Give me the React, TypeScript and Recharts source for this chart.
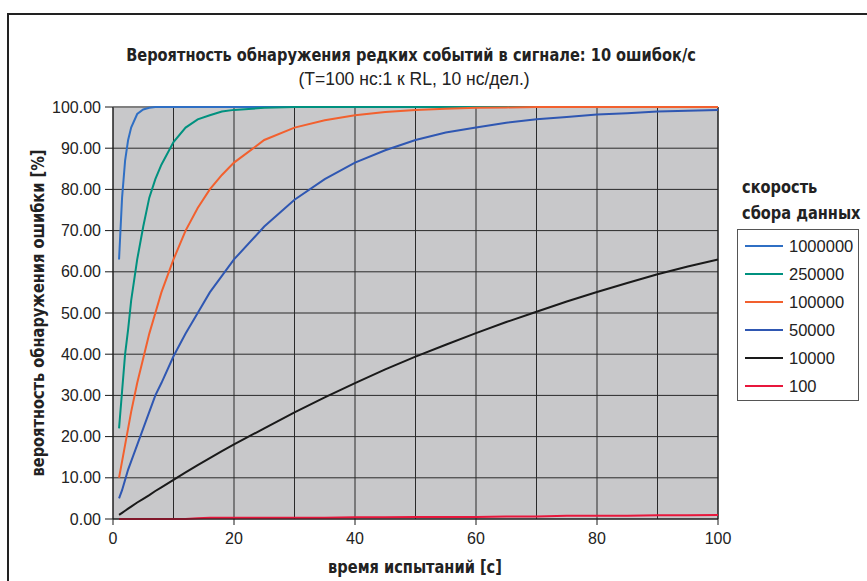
import { LineChart, Line, XAxis, YAxis, CartesianGrid, ReferenceLine } from 'recharts';

const times = [1, 1.5, 2, 2.5, 3, 4, 5, 6, 7, 8, 10, 12, 14, 16, 18, 20, 25, 30, 35, 40, 45, 50, 55, 60, 65, 70, 75, 80, 85, 90, 95, 100];
const s1000000 = [63, 78, 87, 92, 95, 98.3, 99.4, 99.8, 100, 100, 100, 100, 100, 100, 100, 100, 100, 100, 100, 100, 100, 100, 100, 100, 100, 100, 100, 100, 100, 100, 100, 100];
const s250000 = [22, 31, 40, 46, 53, 63, 71, 78, 82.5, 86, 91.5, 95, 97, 98, 98.9, 99.3, 99.8, 100, 100, 100, 100, 100, 100, 100, 100, 100, 100, 100, 100, 100, 100, 100];
const s100000 = [10, 14, 18, 22, 26, 33, 39, 45, 50, 55, 63, 70, 75.5, 80, 83.5, 86.5, 92, 95, 96.8, 98, 98.8, 99.3, 99.6, 99.8, 99.9, 100, 100, 100, 100, 100, 100, 100];
const s50000 = [5, 7, 9.5, 12, 14, 18, 22, 26, 30, 33, 39.5, 45, 50, 55, 59, 63, 71, 77.5, 82.5, 86.5, 89.5, 92, 93.8, 95, 96.2, 97, 97.6, 98.2, 98.5, 98.9, 99.1, 99.3];
const s10000 = [1, 1.5, 2, 2.5, 3, 4, 4.9, 5.8, 6.8, 7.7, 9.5, 11.3, 13.1, 14.8, 16.5, 18.1, 22, 25.9, 29.5, 33, 36.3, 39.4, 42.3, 45.1, 47.8, 50.3, 52.8, 55.1, 57.3, 59.4, 61.3, 63];
const s100 = [0, 0, 0, 0, 0, 0, 0, 0, 0, 0, 0, 0, 0.2, 0.3, 0.3, 0.3, 0.3, 0.3, 0.3, 0.4, 0.4, 0.5, 0.5, 0.5, 0.6, 0.6, 0.8, 0.8, 0.8, 0.9, 0.9, 1.0];

const xTicks = [0, 20, 40, 60, 80, 100];
const xMinorGrid = [10, 30, 50, 70, 90];
const yTicks = [0, 10, 20, 30, 40, 50, 60, 70, 80, 90, 100];

const series = [
  { key: 's1000000', name: '1000000', color: '#2f6fc4', values: s1000000 },
  { key: 's250000', name: '250000', color: '#00917f', values: s250000 },
  { key: 's100000', name: '100000', color: '#f2602e', values: s100000 },
  { key: 's50000', name: '50000', color: '#2f57b2', values: s50000 },
  { key: 's10000', name: '10000', color: '#1a1a1a', values: s10000 },
  { key: 's100', name: '100', color: '#e8173c', values: s100 },
];

const data = times.map((t, i) => {
  const row: Record<string, number> = { t };
  series.forEach(s => { row[s.key] = s.values[i]; });
  return row;
});

const COND = '"DejaVu Sans Condensed", "Liberation Sans Narrow", Arial, sans-serif';
const SANS = '"Liberation Sans", Arial, sans-serif';

const boldText = { fontFamily: COND, fontWeight: 'bold' as const, fontSize: 18, color: '#222', whiteSpace: 'nowrap' as const };

const LegendBox = () => (
  <div style={{ position: 'absolute', left: 737, top: 229, border: '1px solid #555', width: 122, height: 172, padding: '2px 0 0 0', boxSizing: 'border-box', background: '#fff' }}>
    {series.map(s => (
      <div key={s.key} style={{ display: 'flex', alignItems: 'center', height: 28 }}>
        <div style={{ width: 38, height: 2, background: s.color, marginLeft: 7, marginRight: 6 }} />
        <span style={{ fontFamily: SANS, fontSize: 16.5, color: '#222' }}>{s.name}</span>
      </div>
    ))}
  </div>
);

export default function App() {
  return (
    <div style={{ position: 'absolute', left: 0, top: 0, width: 867, height: 581, background: '#fff', overflow: 'hidden' }}>
      <div style={{ position: 'absolute', left: 7, top: 13, width: 870, height: 600, borderLeft: '2px solid #222', borderTop: '2px solid #222' }} />
      <div style={{ ...boldText, position: 'absolute', left: 411, top: 44, transform: 'translateX(-50%) scaleX(0.9)' }}>
        Вероятность обнаружения редких событий в сигнале: 10 ошибок/с
      </div>
      <div style={{ position: 'absolute', left: 414, top: 69, transform: 'translateX(-50%)', whiteSpace: 'nowrap', fontFamily: SANS, fontSize: 17.5, color: '#222' }}>
        (T=100 нс:1 к RL, 10 нс/дел.)
      </div>
      <div style={{ ...boldText, position: 'absolute', left: 742, top: 174, lineHeight: '26px', transform: 'scaleX(0.9)', transformOrigin: 'left top' }}>
        скорость<br />сбора данных
      </div>
      <div style={{ ...boldText, position: 'absolute', left: 37, top: 313, transform: 'translate(-50%, -50%) rotate(-90deg) scaleX(0.9)' }}>
        вероятность обнаружения ошибки [%]
      </div>
      <div style={{ ...boldText, position: 'absolute', left: 415, top: 556, transform: 'translateX(-50%) scaleX(0.9)' }}>
        время испытаний [с]
      </div>
      <LineChart width={867} height={581} data={data} margin={{ top: 107, right: 149, bottom: 0, left: 0 }} style={{ position: 'absolute', left: 0, top: 0 }}>
        <CartesianGrid fill="#c8c8ca" stroke="#2a2a2a" strokeWidth={1} />
        {xMinorGrid.map(v => (
          <ReferenceLine key={v} x={v} stroke="#2a2a2a" strokeWidth={1} />
        ))}
        <ReferenceLine y={100} stroke="#808080" strokeWidth={2} />
        <ReferenceLine x={100} stroke="#1a1a1a" strokeWidth={1} />
        <XAxis
          dataKey="t"
          type="number"
          domain={[0, 100]}
          ticks={xTicks}
          height={62}
          tickSize={6}
          tickMargin={8}
          stroke="#1a1a1a"
          tick={{ fill: '#222', fontFamily: SANS, fontSize: 16 }}
        />
        <YAxis
          type="number"
          domain={[0, 100]}
          ticks={yTicks}
          width={113}
          tickSize={8}
          tickMargin={4}
          stroke="#1a1a1a"
          tickFormatter={(v: number) => v.toFixed(2)}
          tick={{ fill: '#222', fontFamily: SANS, fontSize: 16 }}
        />
        {series.map(s => (
          <Line key={s.key} type="linear" dataKey={s.key} name={s.name} stroke={s.color} strokeWidth={2} dot={false} isAnimationActive={false} />
        ))}
      </LineChart>
      <LegendBox />
    </div>
  );
}
